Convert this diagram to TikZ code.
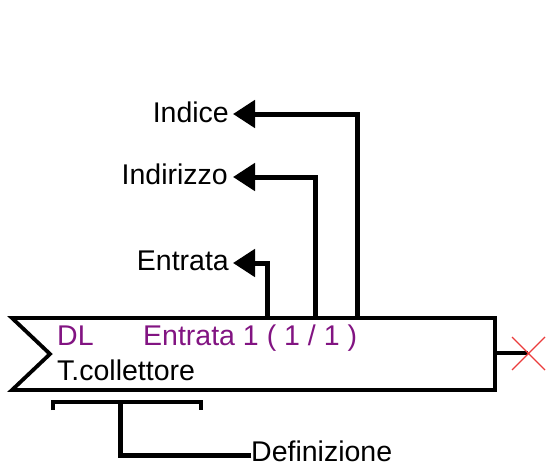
\documentclass[tikz,border=0pt]{standalone}
\usepackage{fontspec}
\setmainfont{Liberation Sans}
\usetikzlibrary{arrows.meta}
\definecolor{dlpurple}{RGB}{130,20,130}
\definecolor{xred}{RGB}{235,60,60}
\tikzset{
  lbl/.style={inner sep=0pt, font=\fontsize{28.5}{32}\selectfont},
  conn/.style={line width=5pt, -{Triangle[length=22pt,width=27pt]}},
  plain/.style={line width=5pt},
  boxline/.style={line width=3.8pt, line join=miter},
}
\begin{document}
\begin{tikzpicture}[x=1pt,y=-1pt]
\useasboundingbox (0,0) rectangle (548,466);
% box
\draw[boxline] (12,318) coordinate (tl) -- (495,318) coordinate (tr) -- (495,390) coordinate (br)
  -- (12,390) coordinate (bl) -- (50,354) coordinate (notch) -- cycle;
% box texts
\node[lbl, anchor=base west, text=dlpurple] (dl) at (57,345) {DL};
\node[lbl, anchor=base west, text=dlpurple] (ent1) at (143,345) {Entrata 1 ( 1 / 1 )};
\node[lbl, anchor=base west] (tcol) at (57,380) {T.collettore};
% labels
\node[lbl, anchor=base east] (indice) at (229,122) {Indice};
\node[lbl, anchor=base east] (indir) at (228,184) {Indirizzo};
\node[lbl, anchor=base east] (entr) at (229,270) {Entrata};
\node[lbl, anchor=base west] (defin) at (251,461) {Definizione};
% arrow tips next to the labels
\coordinate (aindice) at (233,114);
\coordinate (aindir) at (233,177);
\coordinate (aentr) at (233,263);
\coordinate (adef) at (251,455);
% connector origins on the box top
\coordinate (p1) at (267,318);
\coordinate (p2) at (315,318);
\coordinate (p3) at (357,318);
\draw[conn] (p1) |- (aentr);
\draw[conn] (p2) |- (aindir);
\draw[conn] (p3) |- (aindice);
% bracket under T.collettore
\coordinate (bra) at (53,402);
\coordinate (brb) at (201,402);
\coordinate (brm) at (120,402);
\draw[line width=3.6pt] ([yshift=-8pt]bra) -- (bra) -- (brb) -- ([yshift=-8pt]brb);
\draw[plain] (brm) |- (adef);
% output wire and red cross
\coordinate (xc) at (528,353);
\draw[line width=3.4pt] (495,353) -- (xc);
\draw[xred, line width=1.3pt] (512,337) -- (545,370) (512,370) -- (545,337);
\end{tikzpicture}
\end{document}
